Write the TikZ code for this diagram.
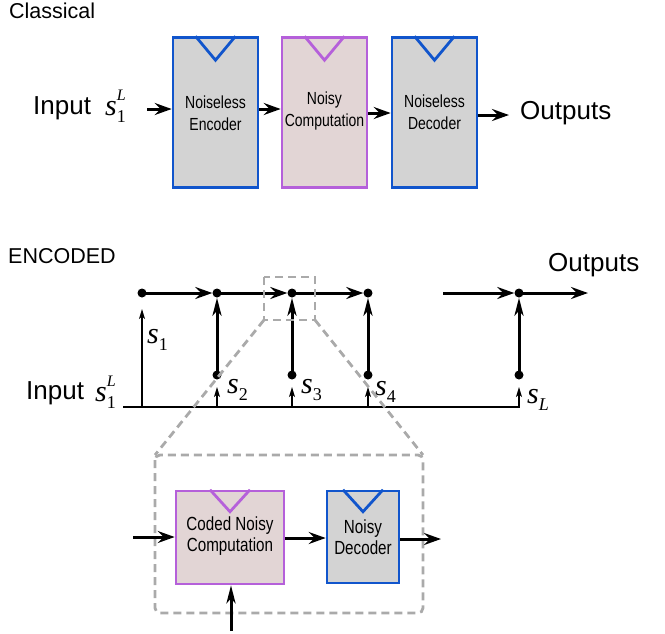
\documentclass[tikz,border=0pt]{standalone}
\usepackage{fontspec}
\setmainfont{Liberation Sans}
\newfontfamily\tms{Liberation Serif}
\newfontfamily\narrowf[FakeStretch=0.8]{Liberation Sans}
\usetikzlibrary{arrows.meta,calc}
\definecolor{bblue}{HTML}{1155CC}
\definecolor{bgray}{HTML}{D3D3D3}
\definecolor{ppurp}{HTML}{B560DA}
\definecolor{ppink}{HTML}{E2D5D5}
\definecolor{dgray}{HTML}{AAAAAA}
% s with subscript (and optional superscript)
\newcommand{\sbig}{{\fontsize{30}{30}\selectfont\tms\itshape s}}
\newcommand{\slab}[1]{\sbig\raisebox{-7pt}{\fontsize{18}{18}\selectfont\tms #1}}
\newcommand{\slabL}{\sbig\rlap{\raisebox{15pt}{\fontsize{16}{16}\selectfont\tms\itshape L}}\raisebox{-7pt}{\fontsize{18}{18}\selectfont\tms 1}}
\tikzset{
  bluebox/.style={draw=bblue,fill=bgray,line width=2.6pt,align=center,inner sep=0pt},
  purpbox/.style={draw=ppurp,fill=ppink,line width=2.6pt,align=center,inner sep=0pt},
  tri/.style={line width=2.8pt,line join=miter},
  boxtxt/.style={font=\narrowf\fontsize{17.5}{22}\selectfont,text=black},
  boxtxtb/.style={font=\narrowf\fontsize{19}{21}\selectfont,text=black},
  bigarrow/.style={line width=3pt,-{Stealth[length=17pt,width=12pt,inset=6pt]}},
  vertarrow/.style={line width=3pt,-{Stealth[length=18pt,width=9pt,inset=5pt]}},
  thinarrow/.style={line width=1.4pt,-{Stealth[length=10pt,width=6pt,inset=2.5pt]}},
  thinline/.style={line width=1.4pt},
  dashbox/.style={draw=dgray,line width=2.8pt,dash pattern=on 8pt off 5pt},
  bigtxt/.style={font=\fontsize{26}{30}\selectfont,inner sep=0pt},
  titletxt/.style={font=\fontsize{21.5}{25}\selectfont,inner sep=0pt},
  dot/.style={circle,fill=black,inner sep=0pt,minimum size=9pt},
  svtxt/.style={inner sep=0pt,anchor=base west},
}
\begin{document}
\begin{tikzpicture}[x=1pt,y=-1pt]
\useasboundingbox (0,0) rectangle (665,633);
% ---------------- Classical ----------------
\node[titletxt,anchor=west] (ctitle) at (9,11) {Classical};
\node[bluebox,minimum width=85pt,minimum height=150pt] (enc) at (215.5,112.5) {};
\node[purpbox,minimum width=85pt,minimum height=150pt] (comp) at (324.5,112.5) {};
\node[bluebox,minimum width=85pt,minimum height=150pt] (dec) at (434.5,112.5) {};
\node[boxtxt,align=center] (enct) at (215.5,113) {Noiseless\\Encoder};
\node[boxtxt,align=center] (compt) at (324.5,111) {Noisy\\Computation};
\node[boxtxt,align=center] (dect) at (434.5,112.5) {Noiseless\\Decoder};
\draw[bblue,tri] ($(enc.north)+(-20,0)$) -- ($(enc.north)+(0,24)$) -- ($(enc.north)+(20,0)$);
\draw[ppurp,tri] ($(comp.north)+(-20,0)$) -- ($(comp.north)+(0,24)$) -- ($(comp.north)+(20,0)$);
\draw[bblue,tri] ($(dec.north)+(-20,0)$) -- ($(dec.north)+(0,24)$) -- ($(dec.north)+(20,0)$);
\node[bigtxt,anchor=west] (cin) at (33,108) {Input};
\node[svtxt] (cs) at (105,115) {\slabL};
\coordinate (cin1) at (147,109);
\coordinate (cout1) at (509,115);
\draw[bigarrow] (cin1) -- (enc.west |- cin1);
\draw[bigarrow] (enc.east |- cin1) -- (comp.west |- cin1);
\draw[bigarrow] (comp.east |- 0,113) -- (dec.west |- 0,113);
\draw[bigarrow] (dec.east |- cout1) -- (cout1);
\node[bigtxt,anchor=west] (cout) at (520,113) {Outputs};
% ---------------- Encoded ----------------
\node[titletxt,anchor=west] (etitle) at (8,256) {ENCODED};
\node[bigtxt,anchor=west] (eout) at (548,265) {Outputs};
\node[dot] (a1) at (142,293) {};
\node[dot] (j2) at (217,293) {};
\node[dot] (j3) at (292,293) {};
\node[dot] (j4) at (368,293) {};
\coordinate (p5) at (443,293);
\node[dot] (j6) at (519,293) {};
\coordinate (o7) at (588,293);
\node[dot] (b2) at (217,375) {};
\node[dot] (b3) at (292,375) {};
\node[dot] (b4) at (368,375) {};
\node[dot] (b6) at (519,375) {};
\draw[bigarrow] (a1.center) -- (j2.west);
\draw[bigarrow] (j2.center) -- (j3.west);
\draw[bigarrow] (j3.center) -- (j4.west);
\draw[bigarrow] (p5) -- (j6.west);
\draw[bigarrow] (j6.center) -- (o7);
\draw[vertarrow] (b2.center) -- (j2.south);
\draw[vertarrow] (b3.center) -- (j3.south);
\draw[vertarrow] (b4.center) -- (j4.south);
\draw[vertarrow] (b6.center) -- (j6.south);
% baseline
\coordinate (bl0) at (123,407);
\coordinate (bl1) at (520,407);
\draw[thinline] (bl0) -- (bl1);
\coordinate (t1) at (142,407);
\coordinate (t1e) at (142,309);
\draw[thinarrow] (t1) -- (t1e);
\foreach \n/\x in {2/217,3/292,4/368,6/519}{
  \coordinate (u\n) at (\x,407);
  \coordinate (v\n) at (\x,387);
  \draw[thinarrow] (u\n) -- (v\n);
}
\node[svtxt] (l1) at (147,343) {\slab{1}};
\node[svtxt] (l2) at (227,393) {\slab{2}};
\node[svtxt] (l3) at (301,393) {\slab{3}};
\node[svtxt] (l4) at (375,395) {\slab{4}};
\node[svtxt] (lL) at (527,403) {\slab{\itshape L}};
\node[bigtxt,anchor=west] (ein) at (26,393) {Input};
\node[svtxt] (es) at (95,401) {\slabL};
% dashed zoom
\coordinate (zs1) at (264,277);
\coordinate (zs2) at (315,320);
\coordinate (zb1) at (155,455);
\coordinate (zb2) at (423,613);
\draw[dashbox] (zs1) rectangle (zs2);
\draw[dashbox,rounded corners=5pt] (zb1) rectangle (zb2);
\draw[dashbox] (zs1 |- zs2) -- (zb1);
\draw[dashbox] (zs2) -- (zb2 |- zb1);
% inner boxes
\node[purpbox,minimum width=108pt,minimum height=93pt] (cnc) at (230,537.5) {};
\node[bluebox,minimum width=72pt,minimum height=92pt] (nd) at (363,537) {};
\node[boxtxtb,align=center] (cnct) at (230,536) {Coded Noisy\\Computation};
\node[boxtxtb,align=center] (ndt) at (363,537.5) {Noisy\\Decoder};
\draw[ppurp,tri] ($(cnc.north)+(-20,0)$) -- ($(cnc.north)+(0,22)$) -- ($(cnc.north)+(20,0)$);
\draw[bblue,tri] ($(nd.north)+(-20,0)$) -- ($(nd.north)+(0,22)$) -- ($(nd.north)+(20,0)$);
\coordinate (ci) at (133,537);
\coordinate (co) at (441,539);
\coordinate (cb) at (231,631);
\draw[bigarrow] (ci) -- (cnc.west |- ci);
\draw[bigarrow] (cnc.east |- 0,538) -- (nd.west |- 0,538);
\draw[bigarrow] (nd.east |- co) -- (co);
\draw[vertarrow] (cb) -- (cb |- cnc.south);
\end{tikzpicture}
\end{document}
